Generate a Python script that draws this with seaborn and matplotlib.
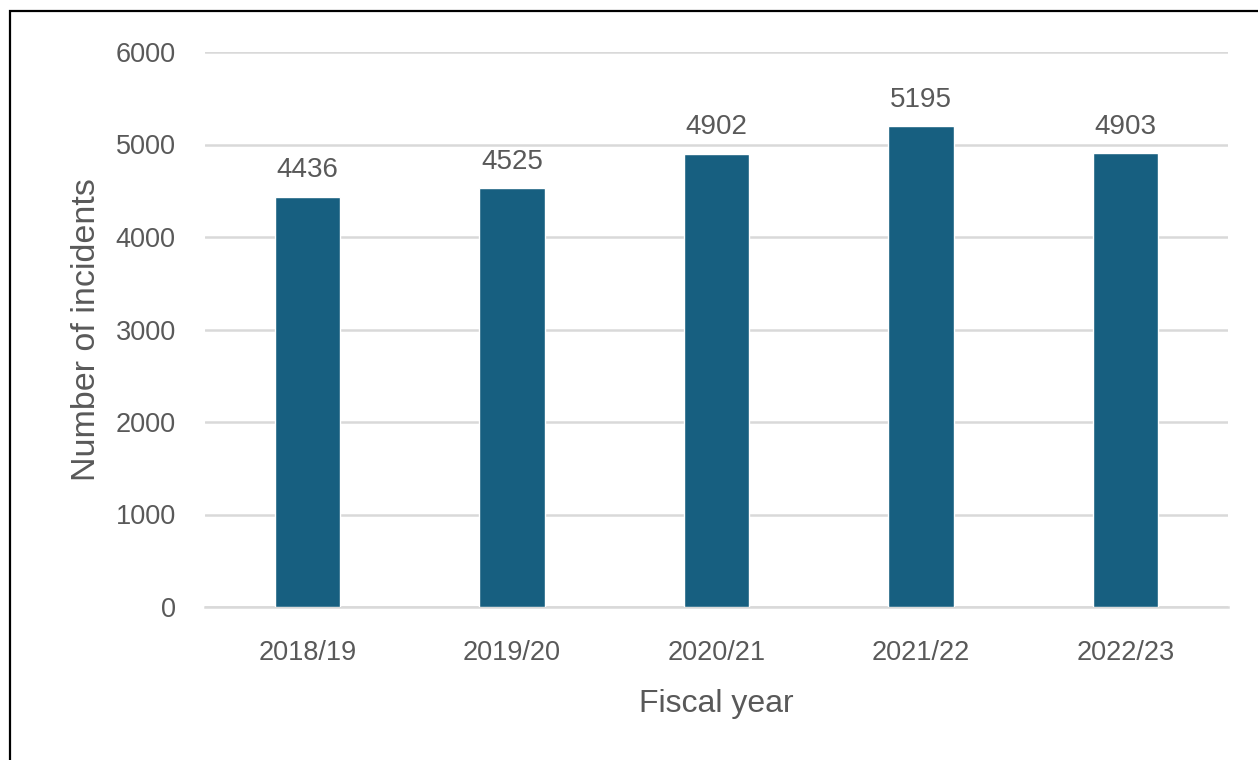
import matplotlib
matplotlib.use("Agg")
import matplotlib.pyplot as plt
from matplotlib.patches import Rectangle
import pandas as pd
import seaborn as sns

years = ["2018/19", "2019/20", "2020/21", "2021/22", "2022/23"]
incidents = [4436, 4525, 4902, 5195, 4903]

df = pd.DataFrame({"year": years, "incidents": incidents})

sns.set_style("white")
plt.rcParams['font.family'] = ['Liberation Sans', 'DejaVu Sans']

fig = plt.figure(figsize=(12.58, 7.6), dpi=100)
ax = fig.add_axes([205 / 1258, 1 - 607 / 760, (1228 - 205) / 1258, (607 - 52) / 760])

sns.barplot(data=df, x="year", y="incidents", color="#175f80", width=0.32,
            saturation=1, ax=ax, zorder=3)

for c in ax.containers:
    ax.bar_label(c, padding=10, fontsize=20, color="#595959")

ax.set_ylim(0, 6000)
ax.set_yticks(range(0, 6001, 1000))
ax.yaxis.grid(True, color="#d9d9d9", linewidth=1.8, zorder=0)
ax.set_axisbelow(True)
for s in ["top", "right", "left"]:
    ax.spines[s].set_visible(False)
ax.spines["bottom"].set_color("#d9d9d9")
ax.spines["bottom"].set_linewidth(1.8)
ax.tick_params(axis="both", length=0, labelsize=19.5, labelcolor="#595959")
ax.tick_params(axis="y", pad=21)
ax.tick_params(axis="x", pad=24)
ax.set_xlabel("Fiscal year", fontsize=23, color="#595959", labelpad=16)
ax.set_ylabel("Number of incidents", fontsize=24.5, color="#595959", labelpad=10)

# outer frame of the chart area (left and top edges visible)
fig.patches.append(Rectangle((10 / 1258, -0.5), 2, 0.5 + 1 - 11 / 760,
                             transform=fig.transFigure, fill=False,
                             edgecolor="black", linewidth=1.6))

fig.savefig("out.png", dpi=100)
